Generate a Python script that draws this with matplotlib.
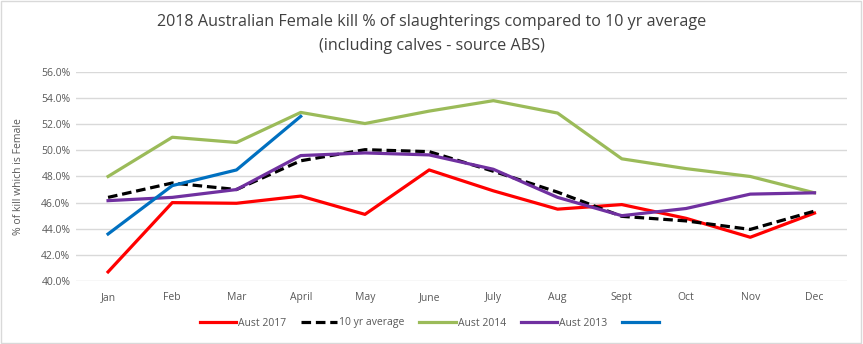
import matplotlib
matplotlib.use("Agg")
import matplotlib.pyplot as plt
from matplotlib.patches import Rectangle
from matplotlib.ticker import FuncFormatter

plt.rcParams['font.family'] = ['Open Sans', 'DejaVu Sans']

months = ["Jan", "Feb", "Mar", "April", "May", "June", "July", "Aug", "Sept", "Oct", "Nov", "Dec"]
aust_2017 = [40.7, 46.0, 45.95, 46.5, 45.1, 48.5, 46.9, 45.5, 45.85, 44.8, 43.35, 45.2]
avg_10yr = [46.4, 47.5, 47.0, 49.2, 50.05, 49.9, 48.4, 46.8, 44.95, 44.6, 43.95, 45.35]
aust_2014 = [48.0, 51.0, 50.6, 52.9, 52.05, 53.0, 53.8, 52.85, 49.35, 48.6, 48.0, 46.75]
aust_2013 = [46.15, 46.4, 47.0, 49.6, 49.8, 49.65, 48.55, 46.4, 45.0, 45.55, 46.65, 46.75]
aust_2018 = [43.6, 47.3, 48.5, 52.6]
yticks = [40, 42, 44, 46, 48, 50, 52, 54, 56]

fig = plt.figure(figsize=(8.63, 3.44), dpi=100)
ax = fig.add_axes([0.088, 0.183, 0.893, 0.608])

x = list(range(len(months)))
lw = 2.3
l1, = ax.plot(x, aust_2017, color="#ff0000", lw=lw)
l2, = ax.plot(x, avg_10yr, color="#000000", lw=lw, linestyle=(0, (3, 1.5)))
l3, = ax.plot(x, aust_2014, color="#9bbb59", lw=lw)
l4, = ax.plot(x, aust_2013, color="#7030a0", lw=lw)
l5, = ax.plot(x[:len(aust_2018)], aust_2018, color="#0070c0", lw=lw)

ax.set_xlim(-0.5, len(months) - 0.5)
ax.set_ylim(yticks[0], yticks[-1])
ax.set_yticks(yticks)
ax.yaxis.set_major_formatter(FuncFormatter(lambda v, p: f"{v:.1f}%"))
ax.set_xticks(x)
ax.set_xticklabels(months)
ax.grid(axis="y", color="#d9d9d9", lw=1)
ax.set_axisbelow(True)
for s in ax.spines.values():
    s.set_visible(False)
ax.tick_params(axis="both", length=0, labelsize=7.5, colors="#595959", pad=8)
ax.tick_params(axis="y", pad=4)
ax.set_ylabel("% of kill which is Female", fontsize=7.5, color="#595959", labelpad=12)

fig.text(0.5, 1 - 22 / 344, "2018 Australian Female kill % of slaughterings compared to 10 yr average",
         ha="center", va="center", fontsize=11.6, color="#404040")
fig.text(0.5, 1 - 46 / 344, "(including calves - source ABS)",
         ha="center", va="center", fontsize=11.6, color="#404040")

fig.legend([l1, l2, l3, l4, l5], ["Aust 2017", "10 yr average", "Aust 2014", "Aust 2013", " "],
           loc="center", bbox_to_anchor=(0.5, 1 - 323 / 344), ncol=5, frameon=False,
           fontsize=7.5, handlelength=3.5, handletextpad=0.2, columnspacing=1.4,
           labelcolor="#595959")

fig.patches.append(Rectangle((0.001, 0.002), 0.997, 0.996, transform=fig.transFigure,
                             fill=False, edgecolor="#d9d9d9", lw=1))

fig.savefig("out.png", dpi=100)
